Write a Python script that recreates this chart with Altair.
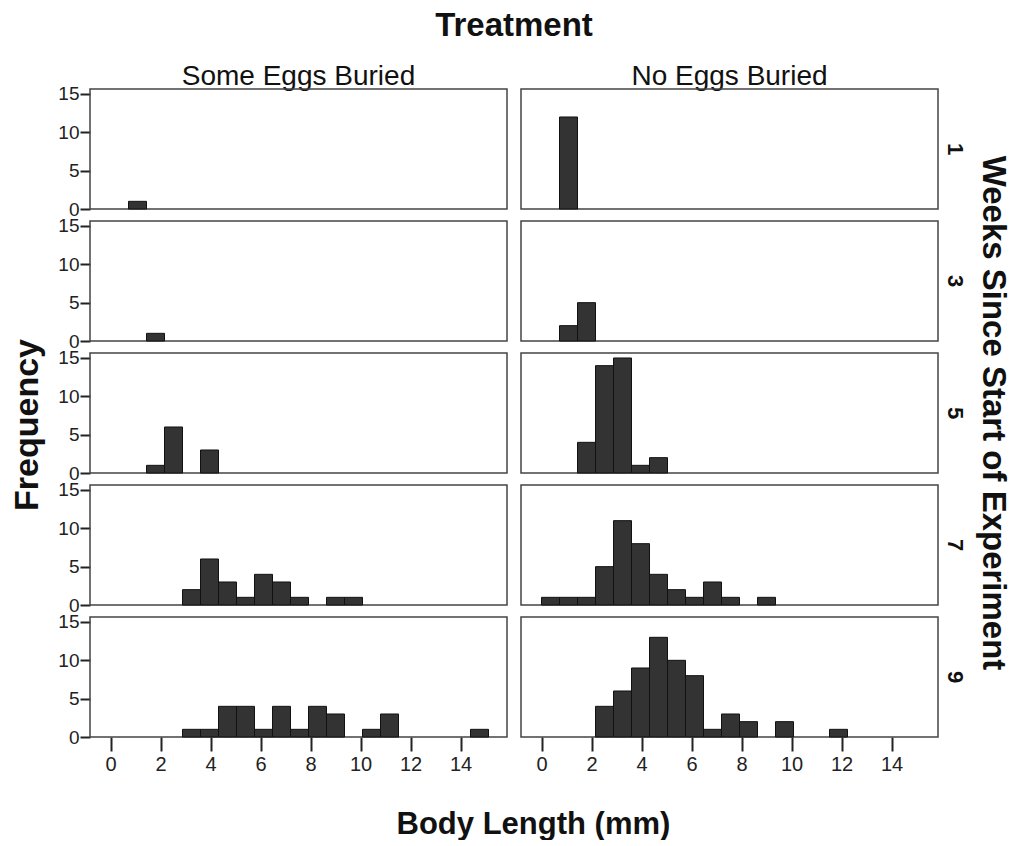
import altair as alt
import pandas as pd

# Histogram bin width (mm); bin k spans [k * BIN_WIDTH, (k + 1) * BIN_WIDTH)
BIN_WIDTH = 0.72

treatments = ["Some Eggs Buried", "No Eggs Buried"]
weeks = [1, 3, 5, 7, 9]

# Counts per bin, starting at bin 0, for each treatment and week
some_eggs = {
    1: [0, 1],
    3: [0, 0, 1],
    5: [0, 0, 1, 6, 0, 3],
    7: [0, 0, 0, 0, 2, 6, 3, 1, 4, 3, 1, 0, 1, 1],
    9: [0, 0, 0, 0, 1, 1, 4, 4, 1, 4, 1, 4, 3, 0, 1, 3, 0, 0, 0, 0, 1],
}
no_eggs = {
    1: [0, 12],
    3: [0, 2, 5],
    5: [0, 0, 4, 14, 15, 1, 2],
    7: [1, 1, 1, 5, 11, 8, 4, 2, 1, 3, 1, 0, 1],
    9: [0, 0, 0, 4, 6, 9, 13, 10, 8, 1, 3, 2, 0, 2, 0, 0, 1],
}

x_ticks = [0, 2, 4, 6, 8, 10, 12, 14]
y_ticks = [0, 5, 10, 15]

rows = []
for treatment, table in zip(treatments, [some_eggs, no_eggs]):
    for week in weeks:
        for k, n in enumerate(table[week]):
            if n > 0:
                rows.append({
                    "treatment": treatment,
                    "week": week,
                    "lo": k * BIN_WIDTH,
                    "hi": (k + 1) * BIN_WIDTH,
                    "count": n,
                })
df = pd.DataFrame(rows)

FONT = "Liberation Sans"
INK = "#111111"

bars = alt.Chart(df).mark_rect(
    fill="#333333", stroke="#111111", strokeWidth=1
).encode(
    x=alt.X(
        "lo:Q",
        scale=alt.Scale(domain=[-0.82, 15.86], nice=False, zero=False),
        axis=alt.Axis(
            title=None, values=x_ticks, domain=False, grid=False,
            tickSize=14, tickWidth=2, tickColor="#222222",
            labelFontSize=20, labelColor="#222222", labelPadding=3,
        ),
    ),
    x2="hi:Q",
    y=alt.Y(
        "count:Q",
        scale=alt.Scale(domain=[0, 15.65], nice=False),
        axis=alt.Axis(
            title=None, values=y_ticks, domain=False, grid=False,
            tickSize=10, tickWidth=2, tickColor="#222222",
            labelFontSize=19, labelColor="#222222", labelPadding=1,
        ),
    ),
    y2=alt.datum(0),
).properties(width=417, height=120)

grid = bars.facet(
    row=alt.Row(
        "week:O",
        sort=weeks,
        header=alt.Header(
            title="Weeks Since Start of Experiment",
            labelOrient="right", titleOrient="right",
            labelAngle=90, titleAngle=90,
            labelFontSize=22, labelFontWeight="bold", labelColor=INK,
            titleFontSize=33, titleFontWeight="bold", titleColor=INK,
            labelPadding=5, titlePadding=0,
            labelFont=FONT, titleFont=FONT,
        ),
    ),
    column=alt.Column(
        "treatment:N",
        sort=treatments,
        header=alt.Header(
            title="Treatment",
            labelFontSize=28, labelColor=INK,
            titleFontSize=33, titleFontWeight="bold", titleColor=INK,
            labelPadding=-2, titlePadding=10,
            labelFont=FONT, titleFont=FONT,
        ),
    ),
    spacing={"row": 12, "column": 14},
    bounds="flush",
).properties(
    title=alt.TitleParams(
        "Body Length (mm)", orient="bottom", anchor="middle",
        fontSize=31, fontWeight="bold", color=INK, font=FONT, offset=36,
    ),
)

chart = alt.hconcat(grid).properties(
    title=alt.TitleParams(
        "Frequency", orient="left", anchor="middle",
        fontSize=34, fontWeight="bold", color=INK, font=FONT, offset=13,
    ),
    padding={"left": 10, "top": 10, "right": 0, "bottom": 0},
).configure(
    font=FONT,
).configure_view(
    stroke="#444444", strokeWidth=1.5,
).configure_axis(
    labelFont=FONT, titleFont=FONT,
)

chart.save("out.html", embed_options={"renderer": "svg", "actions": False})
